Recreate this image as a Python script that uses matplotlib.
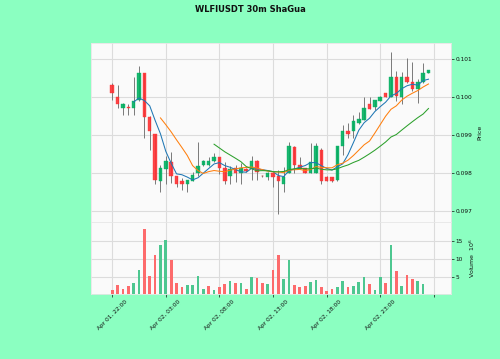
import numpy as np
import pandas as pd
import matplotlib
matplotlib.use("Agg")
import matplotlib.pyplot as plt

# 30m candles
opens = [0.100316, 0.100008, 0.099718, 0.099729, 0.099718, 0.099921, 0.100624, 0.099487, 0.099026, 0.097803,
         0.098097, 0.098303, 0.097921, 0.097803, 0.097703, 0.097803, 0.098000, 0.098203, 0.098203, 0.098316,
         0.098413, 0.098124, 0.097921, 0.098124, 0.098013, 0.098105, 0.098124, 0.098316, 0.097929, 0.097908,
         0.098013, 0.097913, 0.097711, 0.098008, 0.098697, 0.098211, 0.098124, 0.098013, 0.098013, 0.098605,
         0.097908, 0.097895, 0.097816, 0.098711, 0.099113, 0.099113, 0.099308, 0.099408, 0.099808, 0.099745,
         0.099908, 0.100113, 0.100008, 0.100526, 0.100008, 0.100518, 0.100403, 0.100203, 0.100403, 0.100624]
highs = [0.100368, 0.100316, 0.099842, 0.099816, 0.100518, 0.100816, 0.100632, 0.099500, 0.099030, 0.098211,
         0.098447, 0.098553, 0.097925, 0.097868, 0.097816, 0.098034, 0.098824, 0.098342, 0.098421, 0.098526,
         0.098421, 0.098297, 0.098192, 0.098211, 0.098255, 0.098132, 0.098447, 0.098342, 0.097947, 0.098026,
         0.098026, 0.098079, 0.098158, 0.098824, 0.098711, 0.098421, 0.098132, 0.098803, 0.098803, 0.098658,
         0.097921, 0.097908, 0.098711, 0.099263, 0.099308, 0.099526, 0.099605, 0.099992, 0.099992, 0.099921,
         0.100026, 0.100118, 0.101192, 0.100684, 0.100666, 0.101018, 0.100921, 0.100474, 0.100903, 0.100711]
lows = [0.099921, 0.099711, 0.099526, 0.099526, 0.099526, 0.099900, 0.098913, 0.098605, 0.097711, 0.097508,
        0.097711, 0.097737, 0.097632, 0.097553, 0.097508, 0.097789, 0.097921, 0.098184, 0.098184, 0.098289,
        0.097974, 0.097711, 0.097711, 0.097771, 0.097711, 0.098026, 0.097816, 0.097816, 0.097895, 0.097816,
        0.097632, 0.096921, 0.097508, 0.098000, 0.098008, 0.098132, 0.098000, 0.098000, 0.098000, 0.097711,
        0.097789, 0.097771, 0.097789, 0.098474, 0.098913, 0.098913, 0.099289, 0.099395, 0.099684, 0.099658,
        0.099895, 0.099992, 0.100000, 0.099895, 0.099816, 0.100368, 0.100158, 0.099834, 0.100368, 0.100624]
closes = [0.100105, 0.099816, 0.099803, 0.099718, 0.099903, 0.100624, 0.099487, 0.099105, 0.097816, 0.098124,
          0.098316, 0.097921, 0.097711, 0.097703, 0.097816, 0.097947, 0.098197, 0.098324, 0.098311, 0.098413,
          0.098124, 0.097803, 0.098105, 0.098013, 0.098124, 0.098053, 0.098316, 0.098034, 0.097913, 0.098013,
          0.097908, 0.097797, 0.097903, 0.098711, 0.098211, 0.098145, 0.098013, 0.098289, 0.098711, 0.097803,
          0.097795, 0.097789, 0.098711, 0.099113, 0.099026, 0.099368, 0.099413, 0.099703, 0.099695, 0.099913,
          0.100008, 0.100000, 0.100526, 0.100026, 0.100526, 0.100403, 0.100203, 0.100403, 0.100624, 0.100711]
# volume in millions
volumes = [1.3, 2.6, 1.6, 2.3, 3.2, 7.0, 18.3, 5.1, 11.0, 13.8,
           15.3, 9.6, 3.2, 2.1, 2.7, 2.6, 5.3, 1.5, 2.3, 1.3,
           2.2, 2.9, 3.7, 3.2, 3.2, 1.6, 4.8, 4.5, 3.2, 3.0,
           6.9, 11.0, 4.3, 9.6, 2.6, 2.2, 2.5, 3.5, 4.0, 2.0,
           0.9, 1.6, 2.0, 3.7, 2.1, 2.5, 3.6, 5.0, 3.0, 1.4,
           4.8, 3.2, 14.0, 6.7, 2.5, 5.5, 4.4, 3.7, 3.0, 0.2]
mav_periods = [5, 10, 20]
price_ticks = [0.097, 0.098, 0.099, 0.100, 0.101]
vol_ticks = [5, 10, 15]

times = pd.date_range("2025-04-01 22:00", periods=len(closes), freq="30min")
o = np.array(opens)
h = np.array(highs)
l = np.array(lows)
c = np.array(closes)
v = np.array(volumes)
x = np.arange(len(c))

up_col, dn_col = "#00b060", "#fe3032"
vup_col, vdn_col = "#4dc790", "#fd6b6c"
bg = "#8bffc1"

plt.rcParams["font.family"] = "DejaVu Sans"
fig = plt.figure(figsize=(5, 3.59), dpi=100, facecolor=bg)
ax = fig.add_axes([0.181, 0.3816, 0.721, 0.4986])
axv = fig.add_axes([0.181, 0.1797, 0.721, 0.2019], sharex=ax)

for a in (ax, axv):
    a.set_facecolor("#fafafa")
    a.grid(True, color="#dcdcdc", lw=0.8)
    a.set_axisbelow(True)
    for s in a.spines.values():
        s.set_color("#e6e6e6")
        s.set_linewidth(0.6)
    a.yaxis.tick_right()
    a.yaxis.set_label_position("right")
    a.tick_params(labelsize=4.2, colors="#101010", length=2, width=0.5, pad=1.5)

# candles
up = c >= o
ax.vlines(x, l, h, color="#7a7a7a", lw=0.7, zorder=2)
body_col = np.where(up, up_col, dn_col)
ax.bar(x, np.maximum(np.abs(c - o), 0.000004), bottom=np.minimum(o, c), width=0.65,
       color=body_col, edgecolor=body_col, lw=0.3, alpha=0.9, zorder=3)

# moving averages
for p in mav_periods:
    ma = pd.Series(c).rolling(p).mean()
    ax.plot(x, ma, lw=0.75, zorder=4)

ax.set_ylim(0.096711, 0.101421)
ax.set_yticks(price_ticks)
ax.set_yticklabels([f"{t:.3f}" for t in price_ticks])
ax.set_ylabel("Price", fontsize=4.5, color="#101010", labelpad=3)
ax.tick_params(axis="x", labelbottom=False, length=0)

# volume coloured by close vs previous close
prev = np.concatenate([[o[0]], c[:-1]])
vcol = np.where(c > prev, vup_col, vdn_col)
axv.bar(x, v, width=0.5, color=vcol, zorder=3)
axv.set_ylim(0, 20.4)
axv.set_yticks(vol_ticks)
axv.set_ylabel("Volume  $10^6$", fontsize=4.5, color="#101010", labelpad=3)

ax.set_xlim(-4.05, 63.2)
tick_pos = np.arange(0, 61, 10)
axv.set_xticks(tick_pos)
axv.set_xticklabels([times[i].strftime("%b %d, %H:%M") if i < len(times) else "" for i in tick_pos],
                    rotation=45, ha="center", rotation_mode="default")

fig.suptitle("WLFIUSDT 30m ShaGua", fontsize=6, fontweight="bold", y=0.985, color="#101010")
fig.savefig("out.png", dpi=100, facecolor=bg)
